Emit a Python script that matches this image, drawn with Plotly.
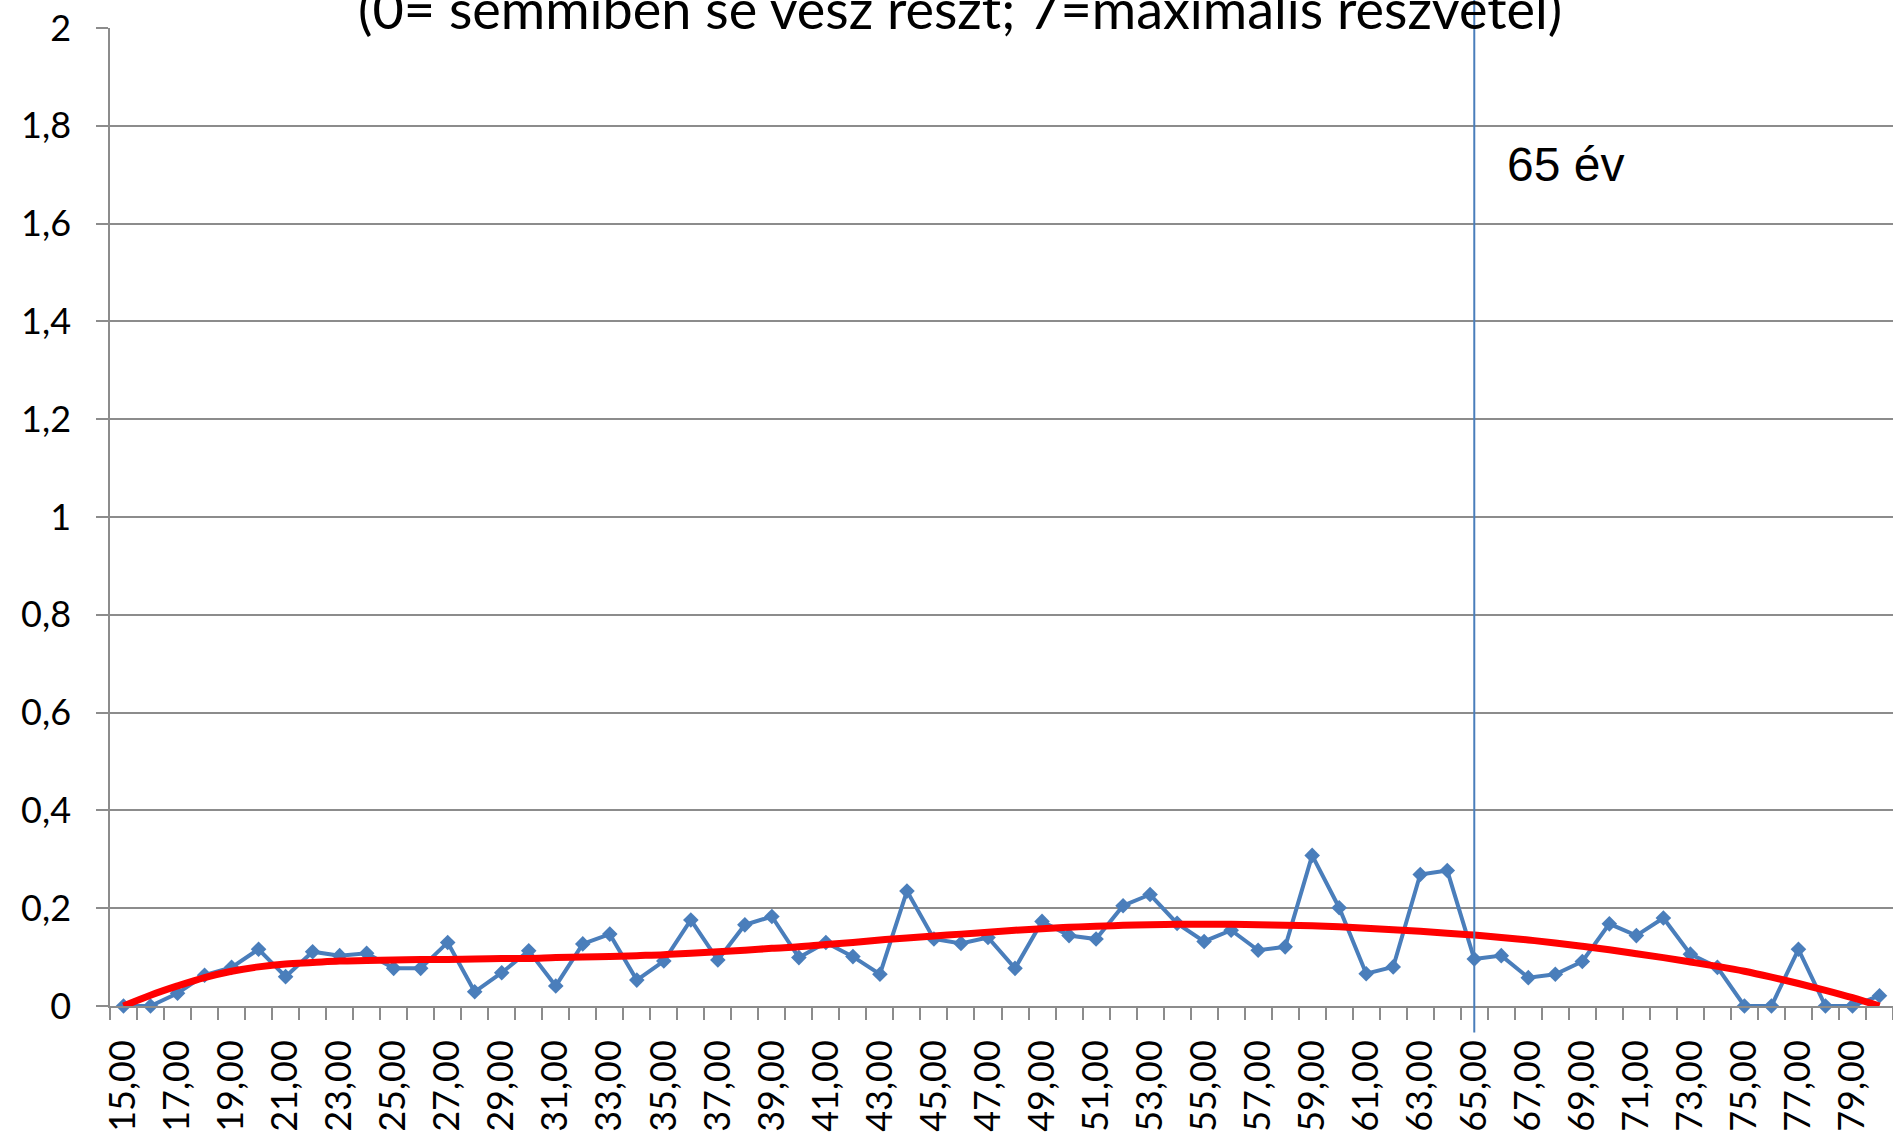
import plotly.graph_objects as go

# Age categories (x axis) and the mean participation score per age.
ages = list(range(15, 81))
age_labels = [f"{a},00" for a in ages]

participation = [
    0.000, 0.000, 0.026, 0.063, 0.079, 0.116, 0.060, 0.111, 0.103, 0.108,
    0.077, 0.077, 0.130, 0.029, 0.068, 0.113, 0.041, 0.127, 0.147, 0.053,
    0.092, 0.176, 0.094, 0.166, 0.183, 0.099, 0.130, 0.101, 0.065, 0.235,
    0.137, 0.128, 0.140, 0.077, 0.173, 0.144, 0.137, 0.205, 0.228, 0.169,
    0.132, 0.155, 0.114, 0.121, 0.308, 0.201, 0.066, 0.080, 0.269, 0.277,
    0.096, 0.103, 0.058, 0.065, 0.091, 0.168, 0.144, 0.180, 0.106, 0.079,
    0.000, 0.000, 0.116, 0.000, 0.000, 0.021,
]

# Polynomial trend line.
trend = [
    0.000, 0.022, 0.041, 0.058, 0.071, 0.080, 0.086, 0.089, 0.092, 0.093,
    0.094, 0.095, 0.095, 0.096, 0.097, 0.097, 0.099, 0.100, 0.101, 0.103,
    0.105, 0.108, 0.111, 0.114, 0.118, 0.121, 0.126, 0.130, 0.135, 0.139,
    0.143, 0.147, 0.151, 0.155, 0.158, 0.161, 0.163, 0.165, 0.166, 0.167,
    0.167, 0.167, 0.166, 0.165, 0.164, 0.162, 0.159, 0.156, 0.153, 0.149,
    0.145, 0.140, 0.135, 0.129, 0.122, 0.115, 0.107, 0.099, 0.090, 0.081,
    0.071, 0.059, 0.046, 0.032, 0.017, 0.000,
]

y_ticks = [0, 0.2, 0.4, 0.6, 0.8, 1, 1.2, 1.4, 1.6, 1.8, 2]
marker_age = 65
marker_label = "65 év"
title_text = "(0= semmiben se vesz részt; 7=maximális részvétel)"

_BLUE = "#4a7ebb"
_RED = "#ff0000"
_GRID = "#8c8c8c"
_FONT = "Lato, 'Open Sans', sans-serif"

fig = go.Figure()
fig.add_trace(go.Scatter(
    x=ages, y=participation, mode="lines+markers",
    line=dict(color=_BLUE, width=4),
    marker=dict(symbol="diamond", size=12, color=_BLUE),
    cliponaxis=False,
))
fig.add_trace(go.Scatter(
    x=ages, y=trend, mode="lines", line_shape="spline",
    line=dict(color=_RED, width=7),
    cliponaxis=False,
))

# vertical marker at 65 years
fig.add_shape(type="line", xref="x", yref="paper",
              x0=marker_age, x1=marker_age, y0=-0.027, y1=1.05,
              line=dict(color=_BLUE, width=2))
fig.add_annotation(x=marker_age, y=1.72, xref="x", yref="y",
                   text=marker_label, showarrow=False,
                   xanchor="left", yanchor="middle", xshift=31,
                   font=dict(family="'Liberation Sans', Arial, sans-serif",
                             size=48, color="#000000"))

# chart title, cut off at the top edge like the original
fig.add_annotation(x=0.477, xref="paper", y=1.0, yref="paper",
                   text=title_text, showarrow=False,
                   xanchor="center", yanchor="middle", yshift=20,
                   font=dict(family=_FONT, size=54, color="#000000"))

fig.update_layout(
    width=1893, height=1132,
    paper_bgcolor="white", plot_bgcolor="white",
    margin=dict(l=110, r=0, t=28, b=126, autoexpand=False),
    showlegend=False,
    separators=", ",
    font=dict(family=_FONT, color="#000000"),
)
fig.update_xaxes(
    range=[ages[0] - 0.5, ages[-1] + 0.5],
    tickmode="array", tickvals=ages[::2], ticktext=age_labels[::2],
    tickangle=-90, tickfont=dict(family=_FONT, size=36),
    ticks="", ticklabelstandoff=18,
    showgrid=False, zeroline=False,
    showline=True, linecolor=_GRID, linewidth=1.5,
    minor=dict(ticks="outside", tickmode="linear", tick0=ages[0] - 0.5, dtick=1,
               ticklen=12, tickcolor=_GRID, tickwidth=1.5, showgrid=False),
    automargin=False,
)
fig.update_yaxes(
    range=[y_ticks[0], y_ticks[-1]],
    tickmode="array", tickvals=y_ticks,
    tickfont=dict(family=_FONT, size=36),
    ticks="outside", ticklen=12, tickcolor=_GRID, tickwidth=1.5,
    ticklabelstandoff=18,
    showgrid=True, gridcolor=_GRID, gridwidth=1.5,
    zeroline=False, showline=True, linecolor=_GRID, linewidth=1.5,
    automargin=False,
)

fig.write_html("out.html", config={"displayModeBar": False},
               post_script="document.body.style.margin='0';")
